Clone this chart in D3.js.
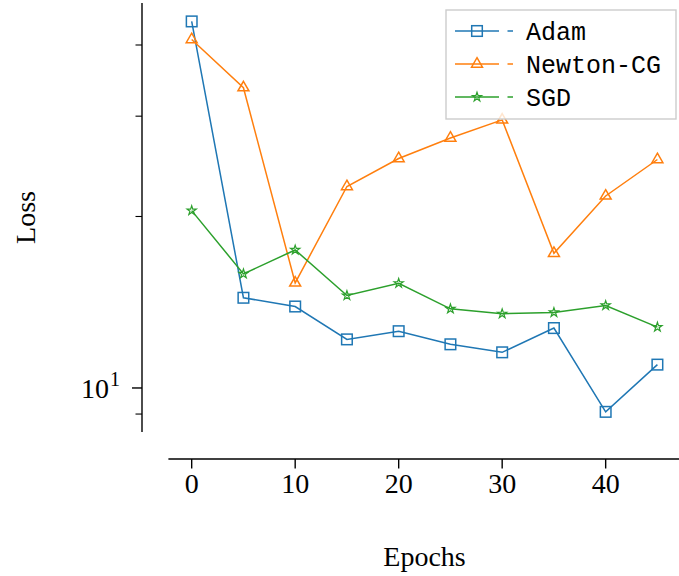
<!DOCTYPE html>
<html>
<head>
<meta charset="utf-8">
<script src="https://cdn.jsdelivr.net/npm/d3@7"></script>
<style>
  html, body { margin: 0; padding: 0; background: #fff; }
  svg { display: block; }
</style>
</head>
<body>
<svg id="chart" width="679" height="576"></svg>
<script>
// Training loss per optimizer, sampled every 5 epochs
const epochs = [0, 5, 10, 15, 20, 25, 30, 35, 40, 45];
const adamLoss = [44.0, 14.4, 13.9, 12.17, 12.58, 11.93, 11.55, 12.74, 9.08, 10.99];
const newtonLoss = [40.9, 33.66, 15.29, 22.58, 25.28, 27.46, 29.55, 17.24, 21.73, 25.18];
const sgdLoss = [20.48, 15.86, 17.47, 14.53, 15.27, 13.77, 13.50, 13.57, 13.96, 12.79];

const seriesNames = ["Adam", "Newton-CG", "SGD"];
const seriesColors = ["#1f77b4", "#ff7f0e", "#2ca02c"];
const seriesValues = [adamLoss, newtonLoss, sgdLoss];

const xTicks = [0, 10, 20, 30, 40];
const yMajorTicks = [10];
const yMinorTicks = [9, 20, 30, 40];

const svg = d3.select("#chart");
const serif = "'Liberation Serif', 'DejaVu Serif', serif";
const mono = "'Liberation Mono', 'DejaVu Sans Mono', monospace";

// Plot area bounds and detached spines
const plot = { left: 168.4, right: 680.7, top: 3, bottom: 432 };
const ySpineX = 142;
const xSpineY = 459;

const x = d3.scaleLinear().domain([-2.25, 47.25]).range([plot.left, plot.right]);
const y = d3.scaleLog().domain([8.37, 47.4]).range([plot.bottom, plot.top]);

// X axis (offset below the plot)
const xAxis = svg.append("g").attr("transform", `translate(0,${xSpineY})`);
xAxis.append("line")
  .attr("x1", x.range()[0]).attr("x2", x.range()[1])
  .attr("stroke", "#000").attr("stroke-width", 1.4);
xAxis.selectAll("g.tick").data(xTicks).join("g")
  .attr("class", "tick")
  .attr("transform", d => `translate(${x(d)},0)`)
  .each(function (d) {
    const g = d3.select(this);
    g.append("line").attr("y2", 9.5).attr("stroke", "#000").attr("stroke-width", 1.4);
    g.append("text").attr("y", 34).attr("text-anchor", "middle")
      .attr("font-family", serif).attr("font-size", 28).text(d);
  });

// Y axis (log scale, offset to the left)
const yAxis = svg.append("g").attr("transform", `translate(${ySpineX},0)`);
yAxis.append("line")
  .attr("y1", y.range()[0]).attr("y2", y.range()[1])
  .attr("stroke", "#000").attr("stroke-width", 1.4);
yAxis.selectAll("line.minor").data(yMinorTicks).join("line")
  .attr("class", "minor")
  .attr("x1", -6.5).attr("x2", 0)
  .attr("y1", d => y(d)).attr("y2", d => y(d))
  .attr("stroke", "#000").attr("stroke-width", 1.1);
const major = yAxis.selectAll("g.major").data(yMajorTicks).join("g")
  .attr("class", "major")
  .attr("transform", d => `translate(0,${y(d)})`);
major.append("line").attr("x1", -10).attr("x2", 0).attr("stroke", "#000").attr("stroke-width", 1.4);
major.append("text")
  .attr("x", -33).attr("y", 10).attr("text-anchor", "end")
  .attr("font-family", serif).attr("font-size", 28)
  .text(d => Math.round(Math.log10(d)) === 1 ? "10" : d);
major.append("text")
  .attr("x", -32).attr("y", -2).attr("text-anchor", "start")
  .attr("font-family", serif).attr("font-size", 20)
  .text(d => Math.round(Math.log10(d)));

// Axis titles
svg.append("text")
  .attr("x", (plot.left + plot.right) / 2).attr("y", 566)
  .attr("text-anchor", "middle")
  .attr("font-family", serif).attr("font-size", 28)
  .text("Epochs");
svg.append("text")
  .attr("transform", `translate(35,${(plot.top + plot.bottom) / 2}) rotate(-90)`)
  .attr("text-anchor", "middle")
  .attr("font-family", serif).attr("font-size", 28)
  .text("Loss");

// Marker shapes
function drawMarker(g, i, cx, cy, color) {
  if (i === 0) {
    g.append("rect")
      .attr("x", cx - 5.3).attr("y", cy - 5.3).attr("width", 10.6).attr("height", 10.6)
      .attr("fill", "none").attr("stroke", color).attr("stroke-width", 1.5);
  } else if (i === 1) {
    g.append("path")
      .attr("d", d3.symbol(d3.symbolTriangle, 52)())
      .attr("transform", `translate(${cx},${cy})`)
      .attr("fill", "none").attr("stroke", color).attr("stroke-width", 1.5);
  } else {
    g.append("path")
      .attr("d", d3.symbol(d3.symbolStar, 26)())
      .attr("transform", `translate(${cx},${cy})`)
      .attr("fill", "none").attr("stroke", color).attr("stroke-width", 1.2);
  }
}

// Series lines with open markers
const line = d3.line().x(d => x(d[0])).y(d => y(d[1]));
seriesValues.forEach((vals, i) => {
  const pts = epochs.map((e, k) => [e, vals[k]]);
  const g = svg.append("g");
  g.append("path").attr("d", line(pts))
    .attr("fill", "none").attr("stroke", seriesColors[i]).attr("stroke-width", 1.5);
  pts.forEach(p => drawMarker(g, i, x(p[0]), y(p[1]), seriesColors[i]));
});

// Legend
const legend = svg.append("g");
legend.append("rect")
  .attr("x", 446).attr("y", 10).attr("width", 230).attr("height", 109)
  .attr("fill", "#fff").attr("fill-opacity", 0.8)
  .attr("stroke", "#cccccc").attr("stroke-width", 1.4);
const rowY = [31, 64, 97];
seriesNames.forEach((name, i) => {
  const g = legend.append("g");
  const c = seriesColors[i];
  g.append("line").attr("x1", 455).attr("x2", 499).attr("y1", rowY[i]).attr("y2", rowY[i])
    .attr("stroke", c).attr("stroke-width", 1.5);
  drawMarker(g, i, 477, rowY[i], c);
  g.append("line").attr("x1", 507.5).attr("x2", 513).attr("y1", rowY[i]).attr("y2", rowY[i])
    .attr("stroke", c).attr("stroke-width", 1.5);
  g.append("text").attr("x", 526).attr("y", rowY[i] + 8.5)
    .attr("font-family", mono).attr("font-size", 25)
    .text(name);
});
</script>
</body>
</html>
